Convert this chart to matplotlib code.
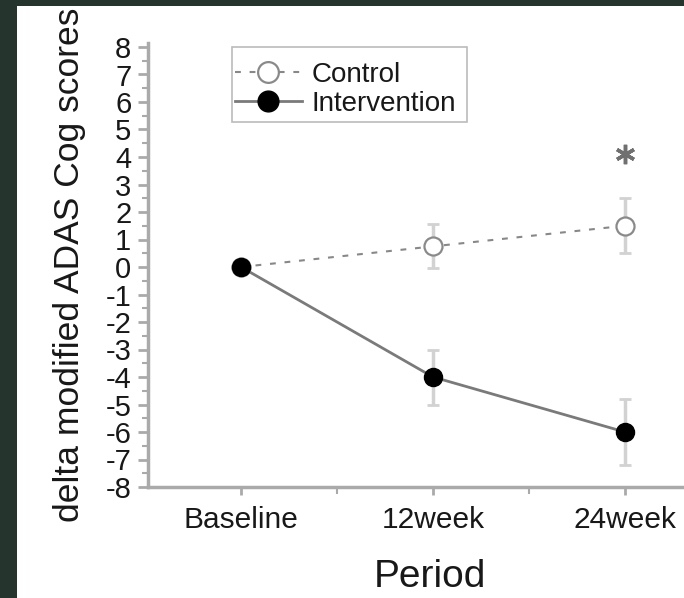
import matplotlib
matplotlib.use("Agg")
import matplotlib.pyplot as plt
from matplotlib.patches import Rectangle
from matplotlib.ticker import MultipleLocator, FixedLocator
import numpy as np

# ---- data ----
periods = ["Baseline", "12week", "24week"]
control_mean = [0.0, 0.75, 1.5]
control_err = [0.0, 0.8, 1.0]
intervention_mean = [0.0, -4.0, -6.0]
intervention_err = [0.0, 1.0, 1.2]
y_ticks = list(range(-8, 9))
sig_period = [2]
sig_y = [4.1]

plt.rcParams['font.family'] = ['Liberation Sans', 'DejaVu Sans']

W, H = 684, 598
fig = plt.figure(figsize=(W / 100, H / 100), dpi=100)
fig.patch.set_facecolor('white')

def fx(px):
    return px / W

def fy(py):
    return 1 - py / H

# dark border strips (left and top)
border = '#26342e'
fig.patches.append(Rectangle((0, 0), 17 / W, 1, transform=fig.transFigure,
                             facecolor=border, edgecolor='none', zorder=0))
fig.patches.append(Rectangle((0, 1 - 6 / H), 1, 6 / H, transform=fig.transFigure,
                             facecolor=border, edgecolor='none', zorder=0))

ax_left, ax_right = 148, 684
ax_top, ax_bottom = 43, 487
ax = fig.add_axes([fx(ax_left), fy(ax_bottom), (ax_right - ax_left) / W,
                   (ax_bottom - ax_top) / H])
ax.set_facecolor('none')

x = np.arange(len(periods))

spine_c = '#aaaaaa'
text_c = '#181818'
# error bars
ax.errorbar(x, control_mean, yerr=control_err, fmt='none', ecolor='#d2d2d2',
            elinewidth=2.5, capsize=4, capthick=2, zorder=2)
ax.errorbar(x, intervention_mean, yerr=intervention_err, fmt='none', ecolor='#d2d2d2',
            elinewidth=2.5, capsize=4, capthick=2, zorder=2)

ax.plot(x, control_mean, linestyle=(0, (2.8, 4.2)), color='#888888', linewidth=1.5,
        marker='o', markersize=13, markerfacecolor='white', markeredgecolor='#8a8a8a',
        markeredgewidth=1.6, label='Control', zorder=3)
ax.plot(x, intervention_mean, linestyle='-', color='#7a7a7a', linewidth=2.0,
        marker='o', markersize=13, markerfacecolor='black', markeredgecolor='black',
        markeredgewidth=1.0, label='Intervention', zorder=4)

# significance asterisk
ax.plot(sig_period, sig_y, linestyle='none', marker=(6, 2, 0), markersize=14,
        markeredgewidth=2.5, color='#707070', zorder=4)

ax.set_xlim((ax_left - 241) / 192, (ax_right - 241) / 192)
ax.set_ylim(-8, 8 + 4 / 27.5)

ax.set_xticks(x)
ax.set_xticklabels(periods)
ax.xaxis.set_minor_locator(FixedLocator([0.5, 1.5]))
ax.set_yticks(y_ticks)
ax.set_yticklabels([str(v) for v in y_ticks])
ax.yaxis.set_minor_locator(MultipleLocator(0.5))

for s in ['top', 'right']:
    ax.spines[s].set_visible(False)
for s in ['left', 'bottom']:
    ax.spines[s].set_color(spine_c)
    ax.spines[s].set_linewidth(2.5)

ax.tick_params(axis='y', which='major', direction='out', length=7, width=2,
               color=spine_c, labelsize=21, labelcolor=text_c, pad=5)
ax.tick_params(axis='y', which='minor', direction='out', length=4, width=1.5,
               color=spine_c)
ax.tick_params(axis='x', which='major', direction='out', length=6, width=2,
               color=spine_c, labelsize=21.5, labelcolor=text_c, pad=8)
ax.tick_params(axis='x', which='minor', direction='out', length=5, width=1.5,
               color=spine_c)

fig.text(fx(70), fy(265), 'delta modified ADAS Cog scores', rotation=90,
         ha='center', va='center', fontsize=25.5, color=text_c)
fig.text(fx(430), fy(577), 'Period', ha='center', va='center',
         fontsize=28, color=text_c)

# legend (frame drawn separately to match the reference box)
frame = Rectangle((fx(232), fy(122)), (467 - 232) / W, (122 - 47) / H,
                  transform=fig.transFigure, facecolor='white',
                  edgecolor='#bbbbbb', linewidth=1.2, zorder=5, clip_on=False)
ax.add_patch(frame)
leg = ax.legend(loc='upper left', bbox_to_anchor=(fx(235), fy(62)),
                bbox_transform=fig.transFigure, fontsize=20, frameon=False,
                handlelength=2.4, handletextpad=0.35, borderpad=0,
                labelspacing=0.11, borderaxespad=0, markerscale=1.15)
leg.set_zorder(6)
for t in leg.get_texts():
    t.set_color(text_c)

fig.savefig('out.png', dpi=100, facecolor=fig.get_facecolor())
